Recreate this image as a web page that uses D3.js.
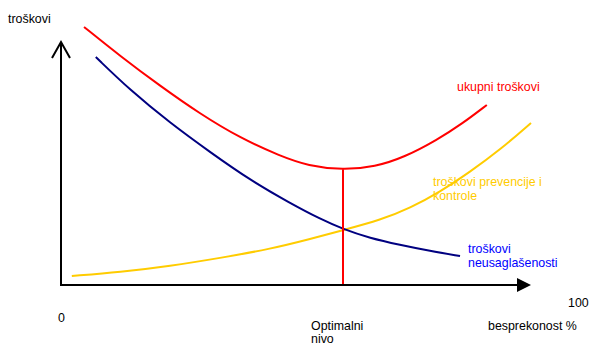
<!DOCTYPE html>
<html>
<head>
<meta charset="utf-8">
<script src="https://cdn.jsdelivr.net/npm/d3@7"></script>
<style>
  html, body { margin: 0; padding: 0; background: #fff; }
  svg { display: block; font-family: "Liberation Sans", Arial, sans-serif; }
</style>
</head>
<body>
<svg id="chart" width="591" height="345"></svg>
<script>
// Kvalitet (besprekonost %) na x osi, troškovi na y osi
const ukupniX   = [4.9, 12.6, 21.1, 29.6, 38.1, 46.6, 52.6, 60.0, 66.8, 73.2, 80.0, 85.3, 90.6];
const ukupniY   = [106.2, 94.2, 81.9, 70.4, 60.5, 53.1, 49.0, 47.3, 48.6, 52.7, 59.7, 66.3, 74.1];

const neusaglX  = [7.4, 14.7, 23.2, 31.7, 40.2, 48.7, 55.1, 60.0, 65.7, 72.1, 78.5, 84.9];
const neusaglY  = [93.8, 80.2, 66.7, 54.7, 43.2, 33.7, 27.2, 23.0, 19.3, 16.5, 14.0, 11.9];

const prevencX  = [2.3, 12.6, 23.2, 33.8, 44.5, 53.0, 60.0, 67.9, 74.3, 80.6, 87.0, 93.4, 100.0];
const prevencY  = [3.7, 5.3, 7.8, 11.1, 14.8, 18.9, 22.6, 26.7, 31.7, 38.3, 46.5, 55.6, 66.7];

const optimum   = [60.0, 47.6];
const xTickLabels = ["0", "100"];

const svg = d3.select("#chart");

const x = d3.scaleLinear().domain([0, 100]).range([61, 531]);
const y = d3.scaleLinear().domain([0, 100]).range([285, 42]);

const line = d3.line()
  .x(d => x(d[0]))
  .y(d => y(d[1]))
  .curve(d3.curveBasis);

function series(xs, ys) { return xs.map((v, i) => [v, ys[i]]); }

// osa y sa otvorenom strelicom
svg.append("line")
  .attr("x1", x(0)).attr("y1", y(0))
  .attr("x2", x(0)).attr("y2", y(100))
  .attr("stroke", "#000").attr("stroke-width", 2);
svg.append("path")
  .attr("d", `M${x(0) - 9},${y(100) + 16} L${x(0)},${y(100)} L${x(0) + 9},${y(100) + 16}`)
  .attr("fill", "none").attr("stroke", "#000").attr("stroke-width", 2);

// osa x sa punom strelicom
svg.append("line")
  .attr("x1", x(0) - 1).attr("y1", y(0))
  .attr("x2", x(100) - 12).attr("y2", y(0))
  .attr("stroke", "#000").attr("stroke-width", 2);
svg.append("path")
  .attr("d", `M${x(100) - 14},${y(0) - 7} L${x(100)},${y(0)} L${x(100) - 14},${y(0) + 7} Z`)
  .attr("fill", "#000");

// krive troškova
svg.append("path").datum(series(prevencX, prevencY))
  .attr("d", line).attr("fill", "none")
  .attr("stroke", "#ffcc00").attr("stroke-width", 2);

svg.append("path").datum(series(neusaglX, neusaglY))
  .attr("d", line).attr("fill", "none")
  .attr("stroke", "#000080").attr("stroke-width", 2);

svg.append("path").datum(series(ukupniX, ukupniY))
  .attr("d", line).attr("fill", "none")
  .attr("stroke", "#ff0000").attr("stroke-width", 2);

// optimalni nivo
svg.append("line")
  .attr("x1", x(optimum[0])).attr("y1", y(optimum[1]))
  .attr("x2", x(optimum[0])).attr("y2", y(0) - 1)
  .attr("stroke", "#ff0000").attr("stroke-width", 2);

// tekstovi
const fs = "12.4px";
function label(tx, ty, lines, color, gap = 13.5) {
  const t = svg.append("text")
    .attr("x", tx).attr("y", ty)
    .attr("font-size", fs).attr("fill", color);
  lines.forEach((s, i) => {
    t.append("tspan").attr("x", tx).attr("dy", i === 0 ? 0 : gap).text(s);
  });
}

label(8, 23, ["troškovi"], "#000");
label(457, 91, ["ukupni troškovi"], "#ff0000");
label(433, 186, ["troškovi prevencije i", "kontrole"], "#ffcc00");
label(468, 253, ["troškovi", "neusaglašenosti"], "#0000ff");
label(x(0) - 3, 322, [xTickLabels[0]], "#000");
label(x(100) + 37, 307, [xTickLabels[1]], "#000");
label(488, 330, ["besprekonost %"], "#000");
label(x(optimum[0]) - 32, 330, ["Optimalni", "nivo"], "#000", 12.5);
</script>
</body>
</html>
